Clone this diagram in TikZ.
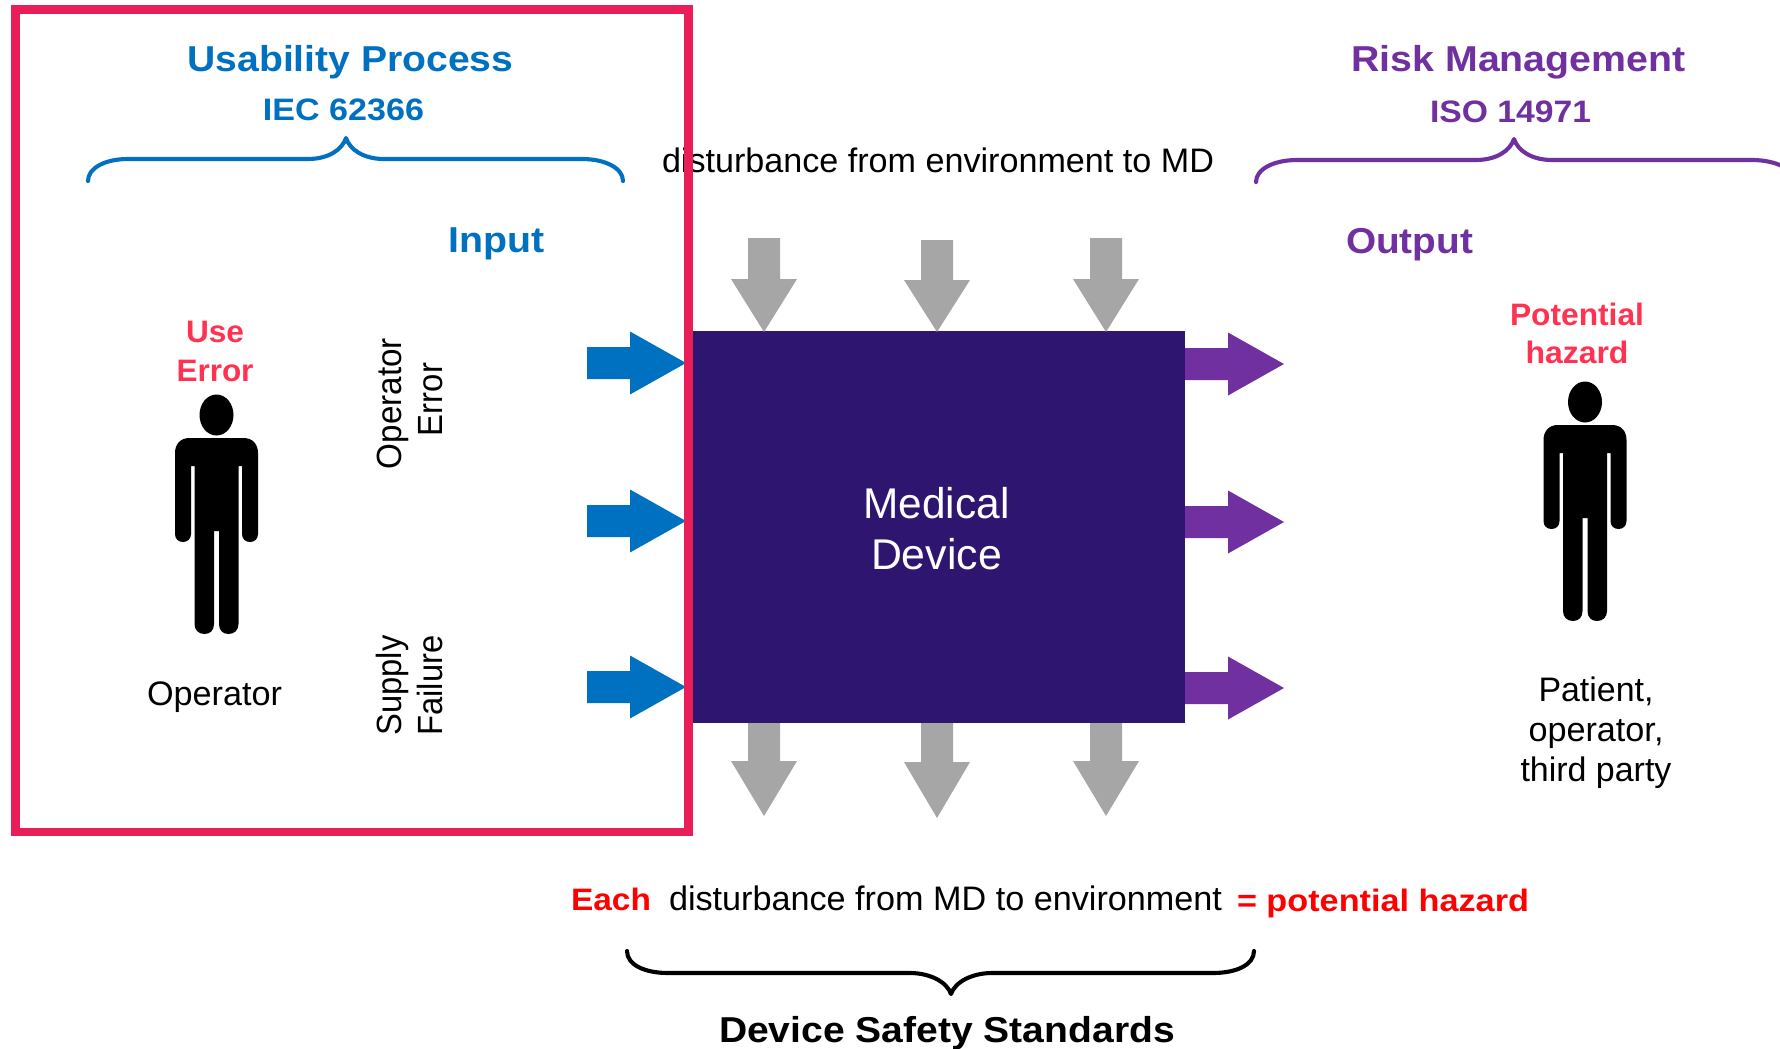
\documentclass[tikz,border=0pt]{standalone}
\usepackage{fontspec}
\setmainfont{Liberation Sans}
\definecolor{cblue}{HTML}{0070C0}
\definecolor{cpurple}{HTML}{7030A0}
\definecolor{cgray}{HTML}{A6A6A6}
\definecolor{cframe}{HTML}{E91E58}
\definecolor{cbox}{HTML}{2E1670}
\definecolor{cwarn}{HTML}{FF3351}
\newcommand{\tw}[2]{\resizebox{#1pt}{\height}{#2}}
\newcommand{\fs}[1]{\fontsize{#1pt}{#1pt}\selectfont}
\newcommand{\harrow}[3]{\fill[#1] (#2,#3-16) -- ++(43,0) -- ++(0,-15.5) -- (#2+99,#3) -- (#2+43,#3+31.5) -- ++(0,-15.5) -- (#2,#3+16) -- cycle;}
\newcommand{\varrow}[4]{\fill[cgray] (#1-16,#2) -- (#1+16,#2) -- (#1+16,#3) -- (#1+33,#3) -- (#1,#4) -- (#1-33,#3) -- (#1-16,#3) -- cycle;}
\newcommand{\person}[2]{%
\begin{scope}[shift={(#1,#2)}]
\fill[black] (0,0) ellipse [x radius=17,y radius=20.5];
\fill[black] (-27,23) -- (27,23) .. controls (36,23) and (41.5,29) .. (41.5,38)
 -- (41.5,119) .. controls (41.5,124) and (38,127) .. (33.5,127) .. controls (29,127) and (25.5,124) .. (25.5,119)
 -- (25.5,51) -- (22,51) -- (22,209) .. controls (22,215) and (18,219) .. (12,219) .. controls (6,219) and (2.5,215) .. (2.5,209)
 -- (2.5,116) -- (-2.5,116) -- (-2.5,209) .. controls (-2.5,215) and (-6,219) .. (-12,219) .. controls (-18,219) and (-22,215) .. (-22,209)
 -- (-22,51) -- (-25.5,51) -- (-25.5,119) .. controls (-25.5,124) and (-29,127) .. (-33.5,127) .. controls (-38,127) and (-41.5,124) .. (-41.5,119)
 -- (-41.5,38) .. controls (-41.5,29) and (-36,23) .. (-27,23) -- cycle;
\end{scope}}
\tikzset{
 txt/.style={inner sep=0pt,outer sep=0pt,anchor=base},
 rtxt/.style={inner sep=0pt,outer sep=0pt,anchor=base,rotate=90},
 bracepath/.style={line width=4.1pt,line cap=round,line join=round},
 heading/.style={txt,font=\fs{36}\bfseries},
 subheading/.style={txt,font=\fs{31}\bfseries},
 plain/.style={txt,font=\fs{34}},
 rplain/.style={rtxt,font=\fs{35}},
}
\begin{document}
\begin{tikzpicture}[x=1pt,y=-1pt]
\useasboundingbox (0,0) rectangle (1780,1049);
\clip (0,0) rectangle (1780,1049);
\fill[white] (0,0) rectangle (1780,1049);
% texts
\node[heading,text=cblue] (usab) at (350.5,71) {\tw{326}{Usability Process}};
\node[subheading,text=cblue] (iec) at (343.5,121) {\tw{161}{IEC 62366}};
\node[heading,text=cblue] (input) at (496.5,252) {\tw{96}{Input}};
\node[subheading,text=cwarn] (use) at (215,342) {\tw{58}{Use}};
\node[subheading,text=cwarn] (err) at (215,381) {\tw{77}{Error}};
\node[plain] (oper) at (214.5,705) {\tw{135}{Operator}};
\node[rplain] (oper2) at (401.5,403.5) {\tw{131}{Operator}};
\node[rplain] (err2) at (442,399.5) {\tw{73}{Error}};
\node[rplain] (sup) at (401.5,685.5) {\tw{100}{Supply}};
\node[rplain] (fail) at (442,685.5) {\tw{100}{Failure}};
\node[plain] (dist) at (938,172) {\tw{552}{disturbance from environment to MD}};
% central block
\node[fill=cbox,minimum width=492.5pt,minimum height=392pt,inner sep=0pt,outer sep=0pt] (md) at (939,527) {};
\node[txt,font=\fs{43},text=white] (med) at (936.5,518) {\tw{146}{Medical}};
\node[txt,font=\fs{43},text=white] (dev) at (936.5,569) {\tw{131}{Device}};
% side arrows
\harrow{cblue}{587}{363}
\harrow{cblue}{587}{521}
\harrow{cblue}{587}{687}
\harrow{cpurple}{1185}{364}
\harrow{cpurple}{1185}{522}
\harrow{cpurple}{1185}{688}
% vertical arrows
\varrow{764}{238}{279}{332}
\varrow{937}{240}{280}{332}
\varrow{1106}{238}{279}{332}
\varrow{764}{723}{761}{816}
\varrow{937}{723}{762}{818}
\varrow{1106}{723}{761}{816}
% frame
\draw[cframe,line width=8.6pt] (15.5,9.5) rectangle (688.5,832);
% people
\person{216.5}{415}
\person{1585}{402}
% right side
\node[heading,text=cpurple] (risk) at (1518.5,72) {\tw{334}{Risk Management}};
\node[subheading,text=cpurple] (iso) at (1510.5,122) {\tw{161}{ISO 14971}};
\node[heading,text=cpurple] (out) at (1409.5,253) {\tw{127}{Output}};
\node[subheading,text=cwarn] (pot) at (1577,325) {\tw{134}{Potential}};
\node[subheading,text=cwarn] (haz) at (1577,363) {\tw{103}{hazard}};
\node[plain] (pat1) at (1596,701) {\tw{115}{Patient,}};
\node[plain] (pat2) at (1596,741) {\tw{135}{operator,}};
\node[plain] (pat3) at (1596,781) {\tw{151}{third party}};
% bottom
\node[subheading,text=red] (each) at (611,910) {\tw{80}{Each}};
\node[plain] (dist2) at (945.5,910) {\tw{553}{disturbance from MD to environment}};
\node[subheading,text=red] (pothaz) at (1383,911) {\tw{292}{= potential hazard}};
\node[heading] (dss) at (947,1042) {\tw{456}{Device Safety Standards}};
% braces
\draw[cblue,bracepath] (88,181) .. controls (88,168) and (105,159) .. (128,159) -- (308,159) .. controls (328,159) and (342,150) .. (346,138) .. controls (350,150) and (364,159) .. (384,159) -- (582,159) .. controls (605,159) and (623,168) .. (623,181);
\draw[cpurple,bracepath] (1256,182) .. controls (1256,169) and (1274,160) .. (1297,160) -- (1476,160) .. controls (1496,160) and (1510,151) .. (1514,139) .. controls (1518,151) and (1532,160) .. (1552,160) -- (1752,160) .. controls (1775,160) and (1795,169) .. (1795,182);
\draw[black,bracepath] (627,951) .. controls (627,965) and (645,973) .. (668,973) -- (910,973) .. controls (930,973) and (947,982) .. (951,994) .. controls (955,982) and (972,973) .. (992,973) -- (1213,973) .. controls (1236,973) and (1254,965) .. (1254,951);
\end{tikzpicture}
\end{document}
